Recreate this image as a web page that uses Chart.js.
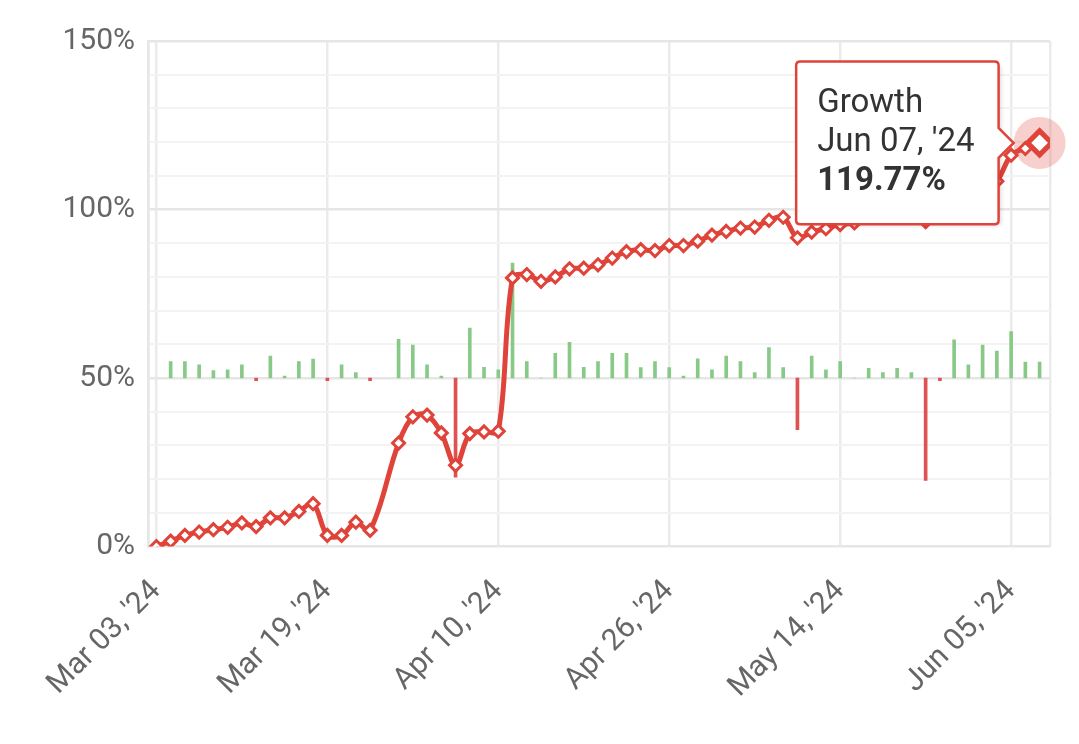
<!DOCTYPE html>
<html>
<head>
<meta charset="utf-8">
<script src="https://cdn.jsdelivr.net/npm/chart.js@4.4.1/dist/chart.umd.min.js"></script>
<style>
  html, body { margin: 0; padding: 0; background: #fff; }
  canvas { display: block; }
</style>
</head>
<body>
<canvas id="growthChart" width="1079" height="744"></canvas>
<script>
// one entry per trading day shown on the chart
const DATES = [
  "Mar 03, '24", "Mar 04, '24", "Mar 05, '24", "Mar 06, '24", "Mar 07, '24", "Mar 08, '24",
  "Mar 11, '24", "Mar 12, '24", "Mar 13, '24", "Mar 14, '24", "Mar 15, '24", "Mar 18, '24",
  "Mar 19, '24", "Mar 20, '24", "Mar 21, '24", "Mar 25, '24", "Mar 26, '24", "Mar 27, '24",
  "Mar 28, '24", "Apr 02, '24", "Apr 03, '24", "Apr 04, '24", "Apr 08, '24", "Apr 09, '24",
  "Apr 10, '24", "Apr 11, '24", "Apr 12, '24", "Apr 15, '24", "Apr 16, '24", "Apr 17, '24",
  "Apr 18, '24", "Apr 19, '24", "Apr 22, '24", "Apr 23, '24", "Apr 24, '24", "Apr 25, '24",
  "Apr 26, '24", "Apr 29, '24", "Apr 30, '24", "May 01, '24", "May 02, '24", "May 03, '24",
  "May 06, '24", "May 07, '24", "May 08, '24", "May 09, '24", "May 10, '24", "May 13, '24",
  "May 14, '24", "May 15, '24", "May 16, '24", "May 20, '24", "May 21, '24", "May 22, '24",
  "May 23, '24", "May 28, '24", "May 29, '24", "May 30, '24", "Jun 03, '24", "Jun 04, '24",
  "Jun 05, '24", "Jun 06, '24", "Jun 07, '24"
];

// cumulative growth, %
const GROWTH = [
  0, 1.6, 3.3, 4.3, 5.0, 5.7, 7.0, 5.9, 8.5, 8.5, 10.4, 12.7,
  3.3, 3.3, 7.2, 4.8, null, 30.7, 38.5, 39.0, 33.7, 24.1, 33.5, 34.0,
  34.2, 79.7, 80.7, 78.7, 80.0, 82.4, 82.6, 83.6, 85.6, 87.5, 88.1, 87.8,
  89.3, 89.3, 90.6, 92.4, 93.5, 94.5, 94.8, 96.8, 97.7, 91.6, 93.3, 94.3,
  95.5, 96.0, 98.5, 99.3, 100.6, 101.5, 96.4, 99.0, 102.5, 104.0, 106.0, 108.4,
  116.1, 118.1, 119.77
];

// daily result bars (own hidden axis, zero sits on the 50% line)
const DAILY = [
  null, 4.9, 4.9, 3.9, 2.2, 2.4, 3.9, -0.8, 6.5, 0.6, 4.9, 5.6,
  -0.8, 3.9, 1.6, -0.8, null, 11.5, 9.8, 3.9, 0.6, -29.4, 14.8, 3.2,
  2.4, 34.1, 4.9, 0, 7.3, 10.6, 3.2, 4.9, 7.3, 7.3, 3.1, 4.9,
  3.1, 0.6, 5.7, 2.4, 6.5, 4.9, 1.6, 9.0, 3.1, -15.3, 6.5, 2.4,
  4.9, 0, 2.9, 1.6, 2.9, 1.6, -30.4, -0.8, 11.3, 3.9, 9.8, 8.0,
  13.8, 4.7, 4.7
];

const X_TICKS = [0, 12, 24, 36, 48, 60];
const Y_LABEL_STEP = 50;
const HOVER_INDEX = 62;

const RED = '#df4339';
const GREEN = '#88c988';
const BAR_RED = '#e05252';
const FONT = 'Roboto, "Noto Sans", sans-serif';

const X_MIN = -0.59, X_MAX = 62.73;

function isMajor(v) {
  return Math.abs(v - Math.round(v / Y_LABEL_STEP) * Y_LABEL_STEP) < 1e-6;
}

const haloPlugin = {
  id: 'halo',
  beforeDatasetsDraw(chart) {
    const pt = chart.getDatasetMeta(0).data[HOVER_INDEX];
    if (!pt) return;
    const { ctx } = chart;
    ctx.save();
    ctx.fillStyle = 'rgba(223,67,57,0.25)';
    ctx.beginPath();
    ctx.arc(pt.x, pt.y, 26, 0, Math.PI * 2);
    ctx.fill();
    ctx.restore();
  }
};

const tooltipShadow = {
  id: 'tooltipShadow',
  beforeTooltipDraw(chart, args) {
    const t = args.tooltip;
    if (!t.opacity) return;
    const { ctx } = chart;
    ctx.save();
    ctx.shadowColor = 'rgba(0,0,0,0.22)';
    ctx.shadowBlur = 5;
    ctx.shadowOffsetX = 3;
    ctx.shadowOffsetY = 3;
    ctx.fillStyle = '#fff';
    ctx.fillRect(t.x + 2, t.y + 2, t.width - 4, t.height - 4);
    ctx.restore();
  }
};

const chart = new Chart(document.getElementById('growthChart'), {
  type: 'line',
  data: {
    datasets: [
      {
        type: 'line',
        label: 'Growth',
        data: GROWTH.map((v, i) => ({ x: i, y: v })),
        yAxisID: 'y',
        order: 0,
        borderColor: RED,
        borderWidth: 5,
        tension: 0.35,
        spanGaps: true,
        pointStyle: 'rectRot',
        pointRadius: 6,
        pointBorderWidth: 3,
        pointBackgroundColor: '#fff',
        pointBorderColor: RED,
        pointHoverRadius: 12,
        pointHoverBorderWidth: 5,
        pointHoverBackgroundColor: '#fff',
        pointHoverBorderColor: RED,
      },
      {
        type: 'bar',
        label: 'Daily',
        data: DAILY.map((v, i) => ({ x: i, y: v })),
        yAxisID: 'y2',
        order: 1,
        barThickness: 3,
        backgroundColor: c => (c.raw && c.raw.y < 0) ? BAR_RED : GREEN,
      }
    ]
  },
  options: {
    responsive: false,
    animation: false,
    events: [],
    layout: { padding: { top: 41, right: 29, left: 0, bottom: 0 } },
    scales: {
      x: {
        type: 'linear',
        offset: false,
        min: X_MIN,
        max: X_MAX,
        afterBuildTicks: s => { s.ticks = [X_MIN, ...X_TICKS, X_MAX].map(v => ({ value: v })); },
        afterFit: s => { s.height = 197.5; s.paddingLeft = 0; s.paddingRight = 0; },
        border: { display: false },
        grid: { offset: false, color: '#ebebeb', lineWidth: 2.5, drawTicks: false },
        ticks: {
          autoSkip: false, minRotation: 45, maxRotation: 45, padding: 27,
          color: '#666', font: { family: FONT, size: 30 },
          callback: v => (Number.isInteger(v) && DATES[v]) ? DATES[v] : ''
        }
      },
      y: {
        min: 0,
        max: 150,
        afterFit: s => { s.width = 148; },
        border: { display: true, color: '#e6e6e6', width: 2.5 },
        grid: {
          drawTicks: false,
          color: c => isMajor(c.tick.value) ? '#e6e6e6' : '#f3f3f3',
          lineWidth: c => isMajor(c.tick.value) ? 2.5 : 2
        },
        ticks: {
          autoSkip: false, stepSize: 10, padding: 13, color: '#666', font: { family: FONT, size: 30 },
          callback: v => isMajor(v) ? Math.round(v) + '%' : ''
        }
      },
      y2: { display: false, min: -50, max: 100 }
    },
    plugins: {
      legend: { display: false },
      tooltip: {
        filter: item => item.datasetIndex === 0,
        xAlign: 'right',
        yAlign: 'center',
        backgroundColor: '#fff',
        borderColor: RED,
        borderWidth: 2.5,
        cornerRadius: 4,
        caretSize: 15,
        caretPadding: 26,
        padding: { left: 21, right: 24, top: 23, bottom: 23 },
        displayColors: false,
        titleColor: '#333',
        bodyColor: '#333',
        titleFont: { family: FONT, size: 33, weight: 'normal', lineHeight: 1.18 },
        bodyFont: { family: FONT, size: 33, weight: 'bold', lineHeight: 1.18 },
        titleSpacing: 0,
        titleMarginBottom: 0,
        bodySpacing: 0,
        callbacks: {
          title: items => ['Growth', DATES[items[0].dataIndex]],
          label: item => item.parsed.y.toFixed(2) + '%'
        }
      }
    }
  },
  plugins: [haloPlugin, tooltipShadow]
});

const active = [{ datasetIndex: 0, index: HOVER_INDEX }];
chart.setActiveElements(active);
const hp = chart.getDatasetMeta(0).data[HOVER_INDEX];
chart.tooltip.setActiveElements(active, { x: hp.x, y: hp.y });
chart.update();
</script>
</body>
</html>
